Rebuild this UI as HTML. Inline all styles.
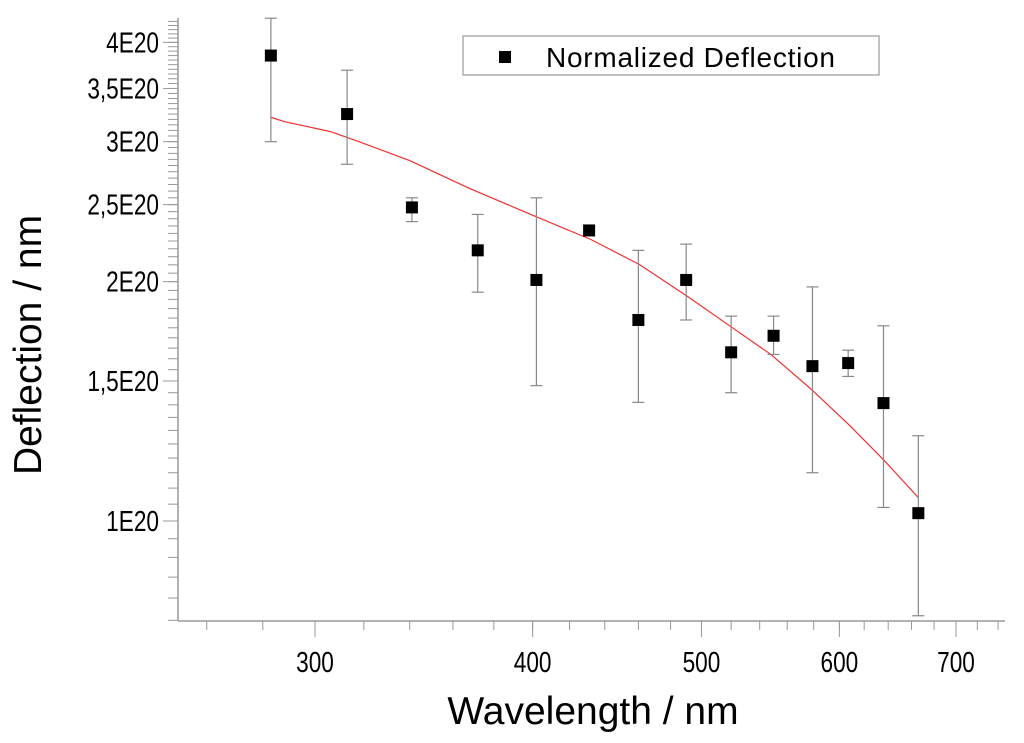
<!DOCTYPE html>
<html><head><meta charset="utf-8"><style>
body{margin:0;background:#fff}
svg{display:block;font-family:"Liberation Sans",sans-serif}
</style></head><body>
<svg id="c" width="1024" height="743"></svg>
<script>
const wavelengths=[283,313,341,372,402,431,460,490,520,550,579,607,636,666];
const deflections=[3.85,3.25,2.48,2.19,2.01,2.32,1.79,2.01,1.63,1.71,1.566,1.58,1.407,1.023];
const errTop=[4.29,3.69,2.55,2.43,2.55,null,2.19,2.23,1.81,1.81,1.97,1.64,1.76,1.28];
const errBottom=[3.0,2.81,2.38,1.94,1.48,null,1.41,1.79,1.45,1.62,1.15,1.52,1.04,0.76];
const fitX=[283,288,306,318,340,368,399,432,461,492,519,548,577,608,637,666];
const fitY=[3.22,3.18,3.09,3.00,2.84,2.62,2.43,2.26,2.10,1.91,1.76,1.62,1.47,1.32,1.19,1.07];
const xTicks=[300,400,500,600,700];
const yTicks=[1,1.5,2,2.5,3,3.5,4];
const yTickLabels=["1E20","1,5E20","2E20","2,5E20","3E20","3,5E20","4E20"];

const NS="http://www.w3.org/2000/svg";
const svg=document.getElementById('c');
const X=v=>315+1742*Math.log10(v/300);
const Y=v=>521-795*Math.log10(v);
function mk(t,a,p){const e=document.createElementNS(NS,t);for(const k in a)e.setAttribute(k,a[k]);(p||svg).appendChild(e);return e;}
const gray="#999";
let e=mk('line',{x1:178,y1:18,x2:178,y2:621,stroke:gray,'stroke-width':1.5});

e=mk('line',{x1:178,y1:621,x2:1005,y2:621,stroke:gray,'stroke-width':1.5});

for(let v=0.75;v<=4.31;v+=0.05){const y=Y(v);if(y<18)break;mk('line',{x1:168,y1:y,x2:178,y2:y,stroke:gray,'stroke-width':1});}
yTicks.forEach((v,i)=>{const y=Y(v);mk('line',{x1:163,y1:y,x2:178,y2:y,stroke:gray,'stroke-width':1});
 const t=mk('text',{transform:'translate(159,'+(y+10)+') scale(0.78,1)','text-anchor':'end','font-size':29,fill:'#000'});t.textContent=yTickLabels[i];
 });
for(let v=260;v<=760;v+=20){const x=X(v);if(x<180||x>1005)continue;mk('line',{x1:x,y1:621,x2:x,y2:630,stroke:gray,'stroke-width':1});}
xTicks.forEach(v=>{const x=X(v);mk('line',{x1:x,y1:621,x2:x,y2:637,stroke:gray,'stroke-width':1});
 const t=mk('text',{transform:'translate('+x+',672) scale(0.78,1)','text-anchor':'middle','font-size':29,fill:'#000'});t.textContent=v;
 });
e=mk('polyline',{points:fitX.map((v,i)=>X(v)+','+Y(fitY[i])).join(' '),fill:'none',stroke:'#f03030','stroke-width':1.2});

wavelengths.forEach((w,i)=>{const x=X(w);
 if(errTop[i]!=null){const g=mk('g',{stroke:'#888','stroke-width':1.2});
  
  mk('line',{x1:x,y1:Y(errTop[i]),x2:x,y2:Y(errBottom[i])},g);
  mk('line',{x1:x-6,y1:Y(errTop[i]),x2:x+6,y2:Y(errTop[i])},g);
  mk('line',{x1:x-6,y1:Y(errBottom[i]),x2:x+6,y2:Y(errBottom[i])},g);}
 const r=mk('rect',{x:x-6,y:Y(deflections[i])-6,width:12,height:12,fill:'#000'});
 
});
const lg=mk('g',{});
mk('rect',{x:463,y:36,width:416,height:39,fill:'#fff',stroke:'#999','stroke-width':1.2},lg);
mk('rect',{x:499,y:51,width:12,height:12,fill:'#000'},lg);
let t=mk('text',{x:546,y:67,'font-size':28,fill:'#000',textLength:289},lg);t.textContent='Normalized Deflection';
t=mk('text',{x:593,y:724,'text-anchor':'middle','font-size':39,fill:'#000'});t.textContent='Wavelength / nm';

t=mk('text',{x:0,y:0,'text-anchor':'middle','font-size':39,fill:'#000',transform:'translate(41,345) rotate(-90)'});t.textContent='Deflection / nm';

</script>
</body></html>
